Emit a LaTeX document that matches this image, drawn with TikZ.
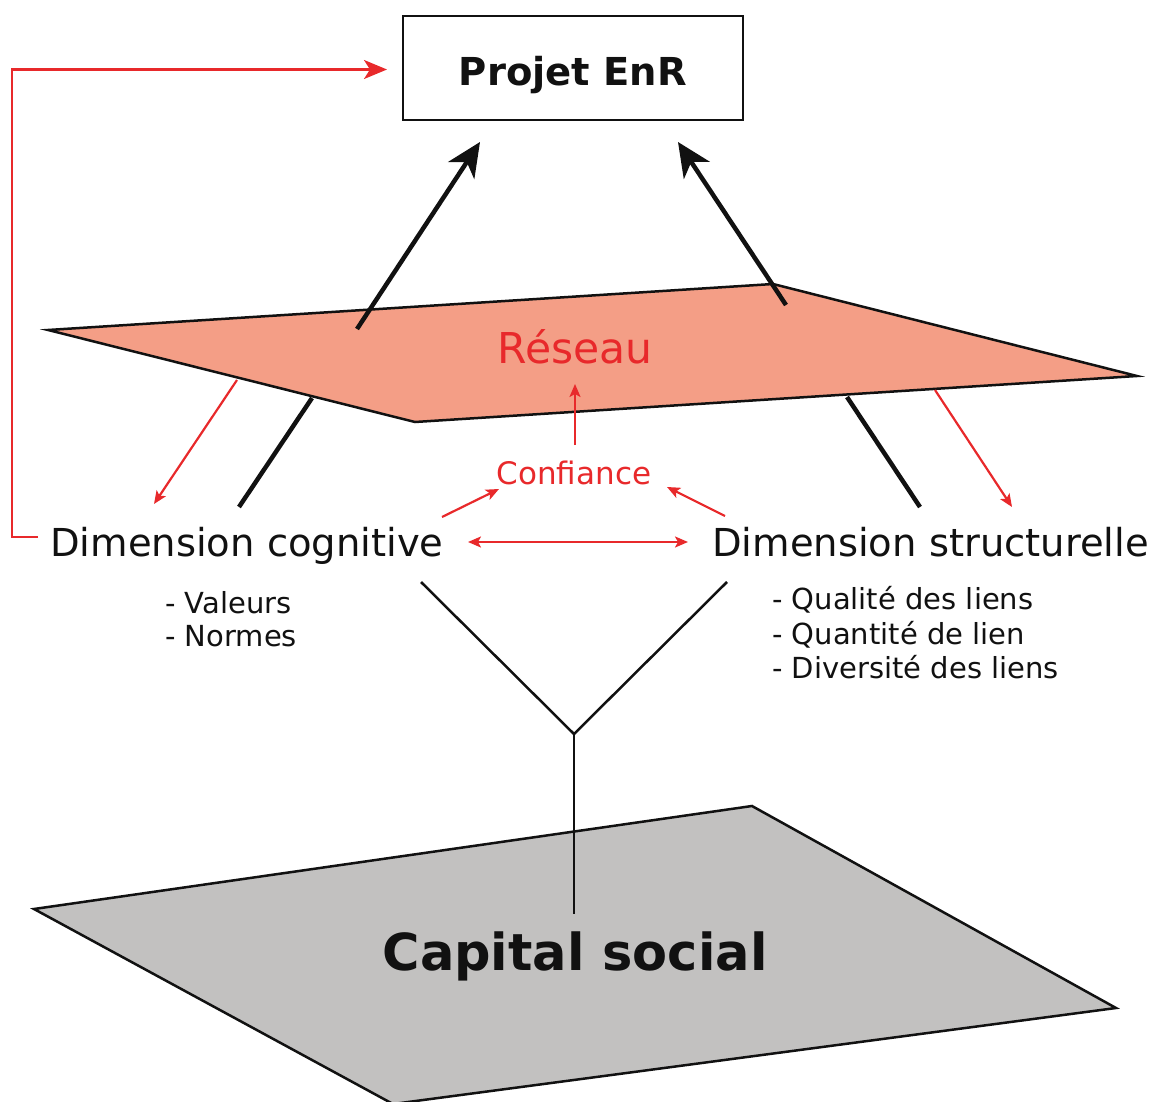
\documentclass[tikz,border=0pt]{standalone}
\usepackage{fontspec}
\setmainfont{DejaVu Sans}
\usetikzlibrary{arrows.meta}
\definecolor{myred}{HTML}{E8292B}
\definecolor{pinkfill}{HTML}{F49E86}
\definecolor{grayfill}{HTML}{C2C1C0}
\definecolor{ink}{HTML}{111111}
\tikzset{
  plane/.style={draw=ink, line width=2.5pt, line join=miter},
  bigarrow/.style={draw=ink, line width=4.5pt, -{Stealth[length=34pt,width=31pt,inset=10pt]}},
  blackline/.style={draw=ink, line width=4.5pt},
  thinline/.style={draw=ink, line width=2.5pt},
  redarrow/.style={draw=myred, line width=2.2pt, -{Stealth[length=13pt,width=11pt,inset=3pt]}},
  redbig/.style={draw=myred, line width=2.4pt, -{Stealth[length=23pt,width=19pt,inset=6pt]}},
  lbl/.style={inner sep=0pt, anchor=base west, text=ink},
}
\begin{document}
\begin{tikzpicture}[x=1pt,y=-1pt]
\useasboundingbox (0,0) rectangle (1157,1102);

% Capital social plane
\draw[plane, fill=grayfill] (34,909) -- (752,806) -- (1116,1008) -- (393,1104) -- cycle;
\node[inner sep=0pt, text=ink, font=\fontsize{51}{60}\selectfont\bfseries] (capital) at (575,956) {Capital social};

% Reseau plane
\draw[plane, fill=pinkfill] (48,330) -- (773,284) -- (1137,376) -- (415,422) -- cycle;
\node[inner sep=0pt, anchor=base, text=myred, font=\fontsize{42.5}{50}\selectfont] (reseau) at (575,363) {Réseau};

% Projet box
\node[draw=ink, line width=2pt, minimum width=340pt, minimum height=104pt, inner sep=0pt,
      text height=36pt, text depth=0pt,
      font=\fontsize{38.5}{46}\selectfont\bfseries, text=ink] (projet) at (573,68) {Projet EnR};

% Dimensions
\node[lbl, font=\fontsize{38.5}{46}\selectfont] (cog) at (50,556) {Dimension cognitive};
\node[lbl, font=\fontsize{38.5}{46}\selectfont] (struc) at (712,556) {Dimension structurelle};

% Confiance
\node[inner sep=0pt, anchor=base, text=myred, font=\fontsize{31}{37}\selectfont] (conf) at (574,484) {Confiance};

% Lists
\node[lbl, font=\fontsize{29}{34}\selectfont] (val) at (165,613) {- Valeurs};
\node[lbl, font=\fontsize{29}{34}\selectfont] (norm) at (165,646) {- Normes};
\node[lbl, font=\fontsize{29}{34}\selectfont] (qual) at (772,609) {- Qualité des liens};
\node[lbl, font=\fontsize{29}{34}\selectfont] (quant) at (772,644) {- Quantité de lien};
\node[lbl, font=\fontsize{29}{34}\selectfont] (div) at (772,678) {- Diversité des liens};

% Coordinates
\coordinate (ra1) at (357,329);  \coordinate (pa1) at (480,142);
\coordinate (ra2) at (786,305);  \coordinate (pa2) at (678,142);
\coordinate (rb1) at (312,398);  \coordinate (cb1) at (239,507);
\coordinate (rb2) at (847,397);  \coordinate (sb2) at (920,507);
\coordinate (rr1) at (237,380);  \coordinate (cr1) at (154,504);
\coordinate (rr2) at (935,390);  \coordinate (sr2) at (1012,507);
\coordinate (cup) at (575,445);  \coordinate (rup) at (575,384);
\coordinate (cc1) at (442,517);  \coordinate (kc1) at (499,489);
\coordinate (sc2) at (725,516);  \coordinate (kc2) at (667,487);
\coordinate (d1) at (468,542);   \coordinate (d2) at (688,542);
\coordinate (y1) at (421,582);   \coordinate (y2) at (727,582);
\coordinate (yj) at (574,734);   \coordinate (yb) at (574,914);
\coordinate (lstart) at (38,537); \coordinate (lcorner) at (12,537);
\coordinate (ltip) at (387,69.5);

% Black arrows to Projet
\draw[bigarrow] (ra1) -- (pa1);
\draw[bigarrow] (ra2) -- (pa2);

% Black lines plane to dimensions
\draw[blackline] (rb1) -- (cb1);
\draw[blackline] (rb2) -- (sb2);

% Red arrows
\draw[redarrow] (rr1) -- (cr1);
\draw[redarrow] (rr2) -- (sr2);
\draw[redarrow] (cup) -- (rup);
\draw[redarrow] (cc1) -- (kc1);
\draw[redarrow] (sc2) -- (kc2);
\draw[redarrow, {Stealth[length=13pt,width=11pt,inset=3pt]}-{Stealth[length=13pt,width=11pt,inset=3pt]}] (d1) -- (d2);

% Red feedback line
\draw[redbig] (lstart) -- (lcorner) |- (ltip);

% Y lines
\draw[thinline, line join=miter] (y1) -- (yj) -- (y2);
\draw[draw=ink, line width=2.2pt] (yj) -- (yb);
\end{tikzpicture}
\end{document}
